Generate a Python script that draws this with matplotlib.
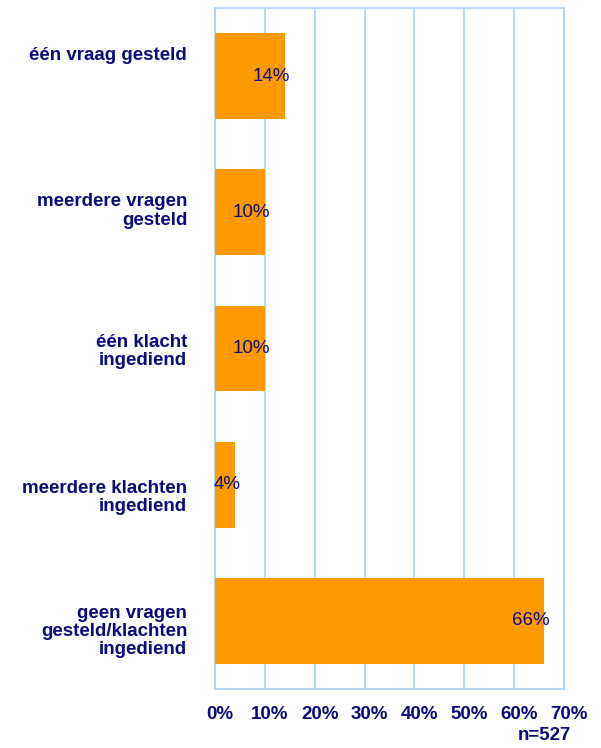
import matplotlib.pyplot as plt
import matplotlib.transforms as mtransforms
import numpy as np

plt.rcParams['font.family'] = ['Liberation Sans', 'DejaVu Sans']

# Antwoordcategorieen en percentages
categorieen = ['één vraag gesteld',
               'meerdere vragen\ngesteld',
               'één klacht\ningediend',
               'meerdere klachten\ningediend',
               'geen vragen\ngesteld/klachten\ningediend']
percentages = [14, 10, 10, 4, 66]
ticks = [0, 10, 20, 30, 40, 50, 60, 70]
n_respondenten = 527

# verticale verschuiving (px) van de categorielabels
label_dy = [23, 4, 0, -10, -8]

navy = '#0a0a7d'
lijn = '#a9d1f7'

fig = plt.figure(figsize=(6.01, 7.48), dpi=100)
ax = fig.add_axes([215/601, 1-689/748, 349/601, 681/748])

y = np.arange(len(categorieen))
ax.barh(y, percentages, height=0.63, color='#ff9900', zorder=3)
ax.set_ylim(len(categorieen)-0.5, -0.5)
ax.set_xlim(0, 70)

ax.set_xticks(ticks)
ax.set_xticklabels([f'{t}%' for t in ticks], fontsize=13.5, fontweight='bold', color=navy)
ax.set_yticks(y)
ax.set_yticklabels(categorieen, fontsize=13.5, fontweight='bold', color=navy,
                   linespacing=1.1)
ax.tick_params(axis='x', length=0, pad=12.5)
ax.tick_params(axis='y', length=0, pad=20)

# x-labels iets naar rechts
verschuif = mtransforms.ScaledTranslation(5/100, 0, fig.dpi_scale_trans)
for lbl in ax.get_xticklabels():
    lbl.set_transform(lbl.get_transform() + verschuif)

for lbl, dy in zip(ax.get_yticklabels(), label_dy):
    lbl.set_transform(lbl.get_transform() +
                      mtransforms.ScaledTranslation(0, dy/100, fig.dpi_scale_trans))

ax.grid(axis='x', color=lijn, linewidth=1.2, zorder=0)
for s in ax.spines.values():
    s.set_color(lijn)
    s.set_linewidth(1.2)

# waarden bij de staven
for yi, p in zip(y, percentages):
    ax.annotate(f'{p}%', (p, yi), xytext=(4, 0), textcoords='offset points',
                ha='right', va='center', fontsize=13.5, color=navy, zorder=4)

fig.text(571/601, 1-736/748, f'n={n_respondenten}', ha='right', va='center',
         fontsize=13.5, fontweight='bold', color=navy)

fig.savefig('out.png', dpi=100)
